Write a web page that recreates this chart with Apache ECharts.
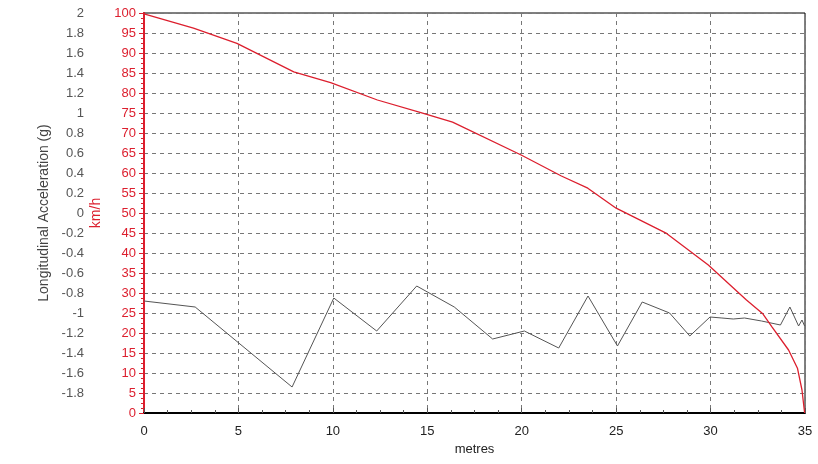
<!DOCTYPE html>
<html>
<head>
<meta charset="utf-8">
<script src="https://cdn.jsdelivr.net/npm/echarts@6/dist/echarts.min.js"></script>
<style>html,body{margin:0;padding:0;background:#fff}#c{width:818px;height:464px}</style>
</head>
<body>
<div id="c"></div>
<script>
// Speed (km/h) vs distance (metres)
var speedX = [0, 2.62, 4.92, 7.93, 9.88, 12.36, 14.66, 16.34, 19.97, 22.1, 23.5, 25.0, 27.67, 29.88, 31.9, 32.75, 33.24, 34.13, 34.6, 34.84, 34.98];
var speedY = [99.8, 96.2, 92.4, 85.3, 82.6, 78.25, 75.1, 72.7, 64.5, 59.25, 56.2, 51.2, 44.9, 37, 28.25, 24.9, 21.6, 15.75, 11.2, 5.75, 0];
// Longitudinal acceleration (g) vs distance (metres)
var accX = [0, 2.71, 7.84, 10.05, 12.32, 14.44, 16.43, 18.46, 20.14, 21.96, 23.51, 25.07, 26.38, 27.83, 28.9, 29.97, 30.6, 31.2, 31.8, 32.7, 33.7, 34.2, 34.66, 34.84, 34.98];
var accY = [-0.88, -0.94, -1.74, -0.85, -1.18, -0.73, -0.94, -1.26, -1.18, -1.35, -0.83, -1.33, -0.89, -1.00, -1.23, -1.04, -1.05, -1.06, -1.05, -1.08, -1.12, -0.94, -1.13, -1.07, -1.13];
var xTicks = {min: 0, max: 35, interval: 5};
var gTicks = {min: -2, max: 2, interval: 0.2};
var vTicks = {min: 0, max: 100, interval: 5};

function pairs(xs, ys) { return xs.map(function (x, i) { return [x, ys[i]]; }); }

var chart = echarts.init(document.getElementById('c'), null, {renderer: 'canvas'});
var font = 'Liberation Sans, Arial, sans-serif';
var red = '#dc1f2e';
chart.setOption({
  animation: false,
  backgroundColor: '#fff',
  grid: {left: 144, right: 13, top: 13, bottom: 51, show: true, borderColor: '#000', borderWidth: 1, backgroundColor: 'transparent'},
  xAxis: {
    type: 'value', min: xTicks.min, max: xTicks.max, interval: xTicks.interval,
    name: 'metres', nameLocation: 'middle', nameGap: 30,
    nameTextStyle: {color: '#222', fontSize: 13, fontFamily: font},
    axisLine: {show: true, onZero: false, lineStyle: {color: '#000', width: 2}},
    axisTick: {show: true, inside: true, length: 5, lineStyle: {color: '#555'}},
    minorTick: {show: true, splitNumber: 4, length: 3, lineStyle: {color: '#555'}},
    axisLabel: {color: '#222', fontSize: 13, fontFamily: font, margin: 12},
    splitLine: {show: true, lineStyle: {color: '#777', type: [4, 4], width: 1}}
  },
  yAxis: [
    {
      type: 'value', position: 'left', offset: 53,
      min: gTicks.min, max: gTicks.max, interval: gTicks.interval,
      name: 'Longitudinal Acceleration (g)', nameLocation: 'middle', nameGap: 37,
      nameTextStyle: {color: '#444', fontSize: 14, fontFamily: font},
      axisLine: {show: true, lineStyle: {color: '#444', width: 2}},
      axisTick: {show: true, length: 4, lineStyle: {color: '#444'}},
      minorTick: {show: true, splitNumber: 4, length: 3, lineStyle: {color: '#444'}},
      axisLabel: {color: '#555', fontSize: 13, fontFamily: font, margin: 7,
        formatter: function (v) { return Math.abs(v + 2) < 1e-6 ? '' : String(+v.toFixed(1)); }},
      splitLine: {show: false}
    },
    {
      type: 'value', position: 'left', offset: 0,
      min: vTicks.min, max: vTicks.max, interval: vTicks.interval,
      name: 'km/h', nameLocation: 'middle', nameGap: 38,
      nameTextStyle: {color: red, fontSize: 14, fontFamily: font},
      axisLine: {show: true, lineStyle: {color: red, width: 2}},
      axisTick: {show: true, length: 5, lineStyle: {color: red}},
      minorTick: {show: true, splitNumber: 4, length: 3, lineStyle: {color: red}},
      axisLabel: {color: red, fontSize: 13, fontFamily: font, margin: 8},
      splitLine: {show: true, lineStyle: {color: '#777', type: [4, 4], width: 1}}
    }
  ],
  series: [
    {
      type: 'line', yAxisIndex: 0, data: pairs(accX, accY), showSymbol: false,
      lineStyle: {color: '#555', width: 1}, z: 3
    },
    {
      type: 'line', yAxisIndex: 1, data: pairs(speedX, speedY), showSymbol: false,
      lineStyle: {color: red, width: 1.3}, z: 4
    }
  ]
});
</script>
</body>
</html>
